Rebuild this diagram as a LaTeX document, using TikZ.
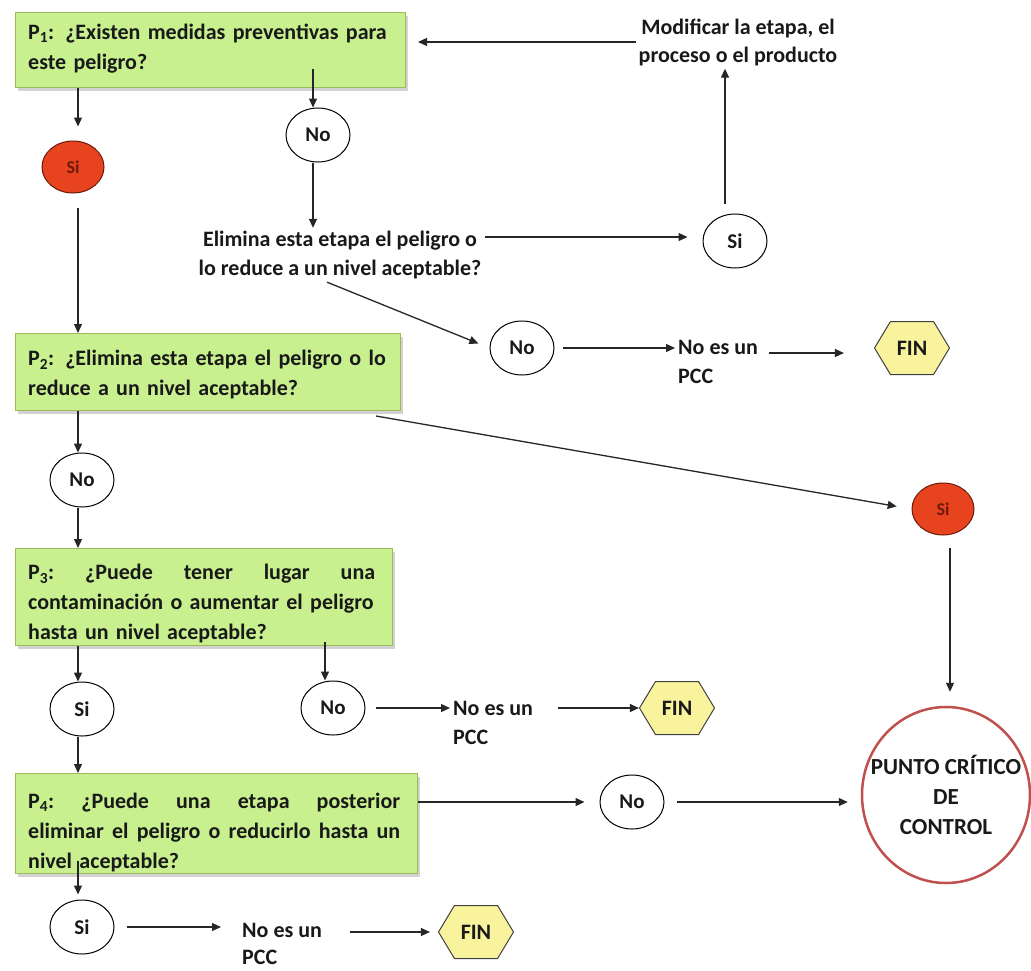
\documentclass[tikz,border=0pt]{standalone}
\usepackage{fontspec}
\setmainfont{Carlito}
\usetikzlibrary{arrows.meta,shapes.geometric,shapes.symbols,shadows}
\definecolor{boxfill}{RGB}{200,240,142}
\definecolor{boxdraw}{RGB}{155,187,89}
\definecolor{redfill}{RGB}{232,67,31}
\definecolor{reddraw}{RGB}{110,25,12}
\definecolor{finfill}{RGB}{248,243,156}
\definecolor{ccpdraw}{RGB}{192,80,77}
\definecolor{txt}{RGB}{25,25,25}
\begin{document}
\begin{tikzpicture}[x=1pt,y=-1pt,
  qbox/.style={draw=boxdraw, fill=boxfill, line width=1pt, inner sep=0, anchor=north west,
    drop shadow={shadow xshift=2pt, shadow yshift=-3pt, opacity=0.35}},
  qtext/.style={anchor=west, align=left, inner sep=0, text=txt,
    font=\bfseries\fontsize{22}{30}\selectfont},
  plain/.style={align=center, inner sep=3pt, text=txt,
    font=\bfseries\fontsize{22}{29}\selectfont},
  yn/.style={ellipse, draw=black, line width=1pt, fill=white, minimum width=64,
    minimum height=54, inner sep=0, text=txt, font=\bfseries\fontsize{21}{24}\selectfont},
  sired/.style={ellipse, draw=reddraw, line width=1pt, fill=redfill, minimum width=62,
    minimum height=52, inner sep=0, text=reddraw, font=\bfseries\fontsize{18}{20}\selectfont},
  fin/.style={signal, signal to=west and east, signal pointer angle=118, draw=black!75,
    fill=finfill, line width=1pt, minimum width=75, minimum height=53, inner sep=0,
    text=txt, font=\bfseries\fontsize{22}{24}\selectfont},
  arr/.style={draw=black!85, line width=1.3pt, -{Triangle[length=9pt,width=8pt]}},
  ln/.style={draw=black!85, line width=1.3pt}
]
\useasboundingbox (0,0) rectangle (1031,970);

% boxes
\node[qbox, minimum width=390, minimum height=75] (p1box) at (15,12) {};
\node[qtext, text width=364] (p1) at (28,49) {P\textsubscript{1}: ¿Existen medidas preventivas para\\este peligro?};
\node[qbox, minimum width=385, minimum height=77] (p2box) at (15,333) {};
\node[qtext, text width=364] (p2) at (28,375) {P\textsubscript{2}: ¿Elimina esta etapa el peligro o lo\\reduce a un nivel aceptable?};
\node[qbox, minimum width=377, minimum height=97] (p3box) at (15,548) {};
\node[qtext, text width=347] (p3) at (28,604) {P\textsubscript{3}:\hfill ¿Puede\hfill tener\hfill lugar\hfill una\\contaminación o aumentar el peligro\\hasta un nivel aceptable?};
\node[qbox, minimum width=402, minimum height=100] (p4box) at (15,773) {};
\node[qtext, text width=372] (p4) at (28,832) {P\textsubscript{4}:\hfill ¿Puede\hfill una\hfill etapa\hfill posterior\\eliminar\hfill el\hfill peligro\hfill o\hfill reducirlo\hfill hasta\hfill un\\nivel aceptable?};

% ellipses and texts
\node[sired] (si1) at (73,167) {Si};
\node[yn] (no1) at (318,135) {No};
\node[plain] (elim) at (340,255) {Elimina esta etapa el peligro o\\lo reduce a un nivel aceptable?};
\node[yn] (siA) at (735,241) {Si};
\node[plain, font=\bfseries\fontsize{22}{28}\selectfont] (modif) at (738,42) {Modificar la etapa, el\\proceso o el producto};
\node[yn] (no2) at (522,348) {No};
\node[plain, align=left, anchor=west] (pcc1) at (675,362) {No es un\\PCC};
\node[fin] (fin1) at (912,348) {FIN};
\node[sired] (si2) at (943,509) {Si};
\node[ellipse, draw=ccpdraw, line width=2.5pt, minimum width=168, minimum height=176,
  inner sep=0] (ccp) at (946,795) {};
\node[align=center, inner sep=0, text=txt, font=\bfseries\fontsize{23}{30}\selectfont] (ccpt) at (ccp.center) {PUNTO CRÍTICO\\DE\\CONTROL};
\node[yn] (no3) at (82,480) {No};
\node[yn] (si4) at (82,709) {Si};
\node[yn] (no5) at (333,708) {No};
\node[plain, align=left, anchor=west] (pcc2) at (450,723) {No es un\\PCC};
\node[fin] (fin2) at (677,708) {FIN};
\node[yn] (no6) at (632,802) {No};
\node[yn] (si7) at (82,927) {Si};
\node[plain, align=left, anchor=west, font=\bfseries\fontsize{22}{27}\selectfont] (pcc3) at (239,944) {No es un\\PCC};
\node[fin] (fin3) at (476,932) {FIN};

% connectors
\draw[arr, shorten >=14pt] ([xshift=5pt]si1 |- p1box.south) -- ([xshift=5pt]si1.north);
\draw[arr, shorten <=14pt] ([xshift=5pt]si1.south) -- ([xshift=5pt]si1 |- p2box.north);
\draw[arr] ([yshift=19pt,xshift=-5pt]no1 |- p1box.south) -- ([xshift=-5pt]no1.north);
\draw[arr] ([xshift=-5pt]no1.south) -- ([xshift=-5pt]no1.south |- elim.north);
\draw[arr, shorten >=15pt] ([yshift=4pt]elim.east |- siA) -- ([yshift=4pt]siA.west);
\draw[arr, shorten <=10pt] ([xshift=-10pt]siA.north) -- ([xshift=-10pt]siA.north |- modif.south);
\draw[arr, shorten >=12pt] (modif.west) -- (modif.west -| p1box.east);
\draw[arr, shorten >=12pt] ([xshift=-13pt]elim.south) -- (no2.west);
\draw[arr, shorten <=8pt] (no2.east) -- (no2.east -| pcc1.west);
\draw[arr, shorten <=8pt, shorten >=30pt] ([yshift=-5pt]pcc1.east |- fin1) -- ([yshift=-5pt]fin1.west);
\draw[arr, shorten >=15pt] ([xshift=-25pt,yshift=-5pt]p2box.south east) -- (si2.west);
\draw[arr, shorten <=12pt, shorten >=14pt] ([xshift=7pt]si2.south) -- ([xshift=7pt]si2.south |- ccp.north);
\draw[arr] ([xshift=-4pt]no3 |- p2box.south) -- ([xshift=-4pt]no3.north);
\draw[arr] ([xshift=-4pt]no3.south) -- ([xshift=-4pt]no3 |- p3box.north);
\draw[arr] ([xshift=-4pt]si4 |- p3box.south) -- ([xshift=-4pt]si4.north);
\draw[arr] ([xshift=-8pt,yshift=4pt]no5 |- p3box.south) -- ([xshift=-8pt]no5.north);
\draw[arr, shorten <=10pt] (no5.east) -- (no5.east -| pcc2.west);
\draw[arr, shorten <=22pt] (pcc2.east |- fin2) -- (fin2.west);
\draw[arr] ([xshift=-4pt]si4.south) -- ([xshift=-4pt]si4 |- p4box.north);
\draw[arr, shorten >=15pt] (p4box.east |- no6) -- (no6.west);
\draw[arr, shorten <=12pt, shorten >=13pt] (no6.east) -- (no6.east -| ccp.west);
\draw[arr, shorten >=5pt] ([xshift=-4pt,yshift=13pt]si7 |- p4box.south) -- ([xshift=-4pt]si7.north);
\draw[arr, shorten <=12pt, shorten >=18pt] (si7.east) -- (si7.east -| pcc3.west);
\draw[arr, shorten <=25pt, shorten >=8pt] (pcc3.east |- fin3) -- (fin3.west);
\end{tikzpicture}
\end{document}
